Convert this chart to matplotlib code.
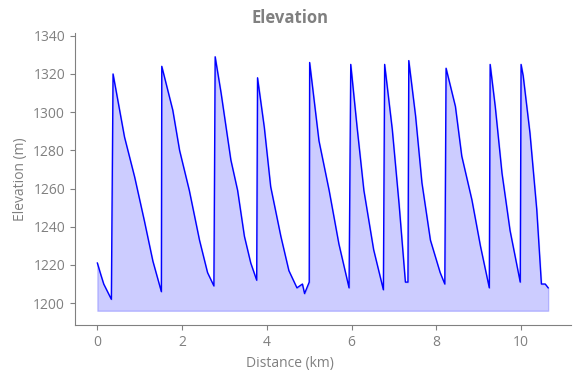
import numpy as np
import matplotlib.pyplot as plt

plt.rcParams['font.family'] = ['Open Sans', 'DejaVu Sans']

# distance (km) and elevation (m) read from the profile
distance = [0.00, 0.08, 0.15, 0.33, 0.37,
            0.64, 0.88, 1.11, 1.31, 1.51,
            1.52, 1.78, 1.94, 2.17, 2.41, 2.60, 2.75,
            2.78, 2.92, 3.15, 3.31, 3.47, 3.62, 3.76,
            3.78, 3.94, 4.09, 4.33, 4.52, 4.71, 4.84, 4.89, 5.00,
            5.01, 5.23, 5.47, 5.70, 5.94,
            5.98, 6.13, 6.29, 6.52, 6.75,
            6.78, 6.96, 7.12, 7.27, 7.33,
            7.35, 7.51, 7.66, 7.86, 8.09, 8.20,
            8.23, 8.45, 8.60, 8.84, 9.04, 9.25,
            9.27, 9.39, 9.55, 9.74, 9.98,
            10.00, 10.05, 10.21, 10.37, 10.48, 10.57, 10.64]
elevation = [1221, 1215, 1210, 1202, 1320,
             1287, 1266, 1243, 1222, 1206,
             1324, 1301, 1280, 1259, 1233, 1216, 1209,
             1329, 1310, 1275, 1259, 1235, 1221, 1212,
             1318, 1292, 1261, 1235, 1217, 1208, 1210, 1205, 1211,
             1326, 1285, 1259, 1231, 1208,
             1325, 1292, 1259, 1228, 1207,
             1325, 1291, 1252, 1211, 1211,
             1327, 1298, 1263, 1233, 1216, 1210,
             1323, 1303, 1277, 1254, 1230, 1208,
             1325, 1303, 1268, 1238, 1211,
             1325, 1319, 1289, 1249, 1210, 1210, 1208]

gray = '#808080'

fig = plt.figure(figsize=(5.8, 3.78), dpi=100)
ax = fig.add_axes([0.129, 0.140, 0.855, 0.773])

base = min(elevation) - 6
ax.fill_between(distance, elevation, base, color='blue', alpha=0.2)
ax.plot(distance, elevation, color='blue', lw=1)

ax.set_ylim(1188.5, 1341.5)
ax.set_yticks(np.arange(1200, 1341, 20))
ax.set_xticks(np.arange(0, 11, 2))

for s in ['top', 'right']:
  ax.spines[s].set_visible(False)
for s in ['left', 'bottom']:
  ax.spines[s].set_color(gray)
ax.tick_params(colors=gray, labelsize=10)

ax.set_xlabel('Distance (km)', color=gray, fontsize=10)
ax.xaxis.set_label_coords(0.433, -0.105)
ax.set_ylabel('Elevation (m)', color=gray, fontsize=10)
fig.suptitle('Elevation', color=gray, fontsize=12, fontweight='bold', x=0.5, y=0.975)

fig.savefig('out.png')
